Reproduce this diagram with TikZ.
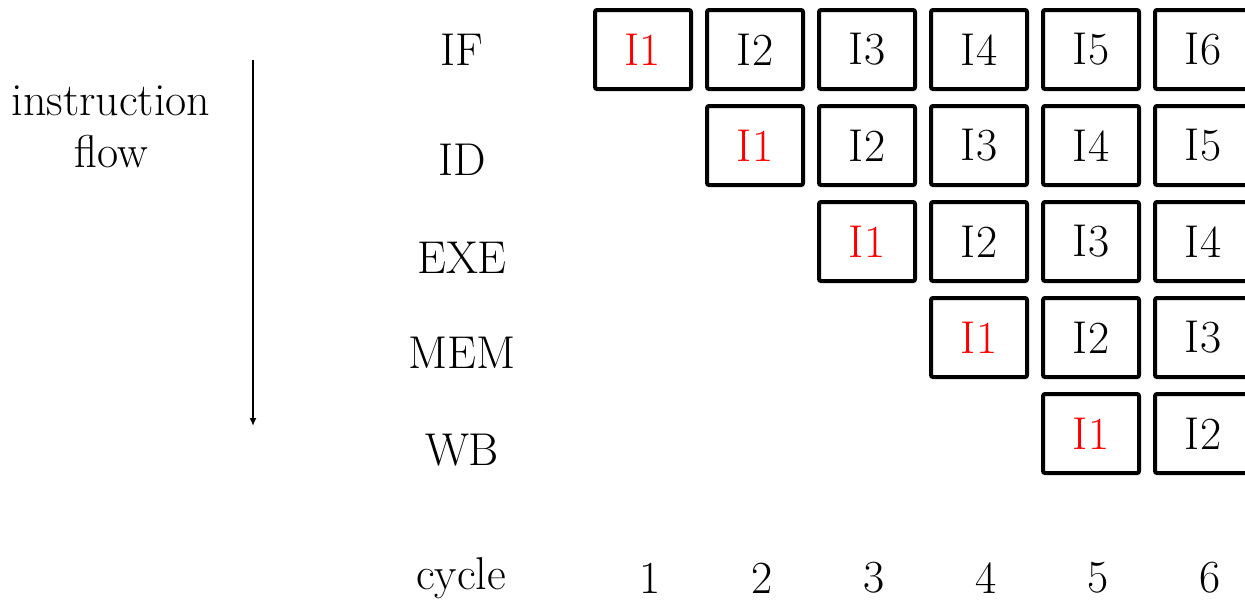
\documentclass[tikz,border=0pt]{standalone}
\usetikzlibrary{arrows.meta}
\begin{document}
\begin{tikzpicture}[x=0.5pt,y=-0.5pt,
  every node/.style={font=\fontsize{23}{27}\selectfont, inner sep=0pt},
  stagebox/.style={draw, line width=2pt, rounded corners=1pt, minimum width=48pt, minimum height=39.5pt},
  first/.style={text=red}]
\useasboundingbox (0,0) rectangle (1245,602);
\clip (0,0) rectangle (1245,602);
% stage labels
\node (sIF) at (462,50) {IF};
\node (sID) at (462,160) {ID};
\node (sEXE) at (462,258) {EXE};
\node (sMEM) at (462,353) {MEM};
\node (sWB) at (462,450) {WB};
% cycle row
\node (cyc) at (461,578) {cycle};
\foreach \c in {1,...,6} {
  \node (c\c) at ({650+112*(\c-1)},578) {\c};
}
% boxes
\foreach \r in {1,...,5} {
  \foreach \c in {\r,...,6} {
    \pgfmathtruncatemacro{\k}{\c-\r+1}
    \ifnum\k=1
      \node[stagebox, first] (b\r\c) at ({643+112*(\c-1)},{49.5+96*(\r-1)}) {I\k};
    \else
      \node[stagebox] (b\r\c) at ({643+112*(\c-1)},{49.5+96*(\r-1)}) {I\k};
    \fi
  }
}
% instruction flow
\node[align=center] (flow) at (111,127) {instruction\\[-1pt]flow};
\coordinate (aS) at (253,60);
\coordinate (aE) at (253,426);
\draw[line width=1pt, -{Latex[length=4pt,width=3.5pt]}] (aS) -- (aE);
\end{tikzpicture}
\end{document}
